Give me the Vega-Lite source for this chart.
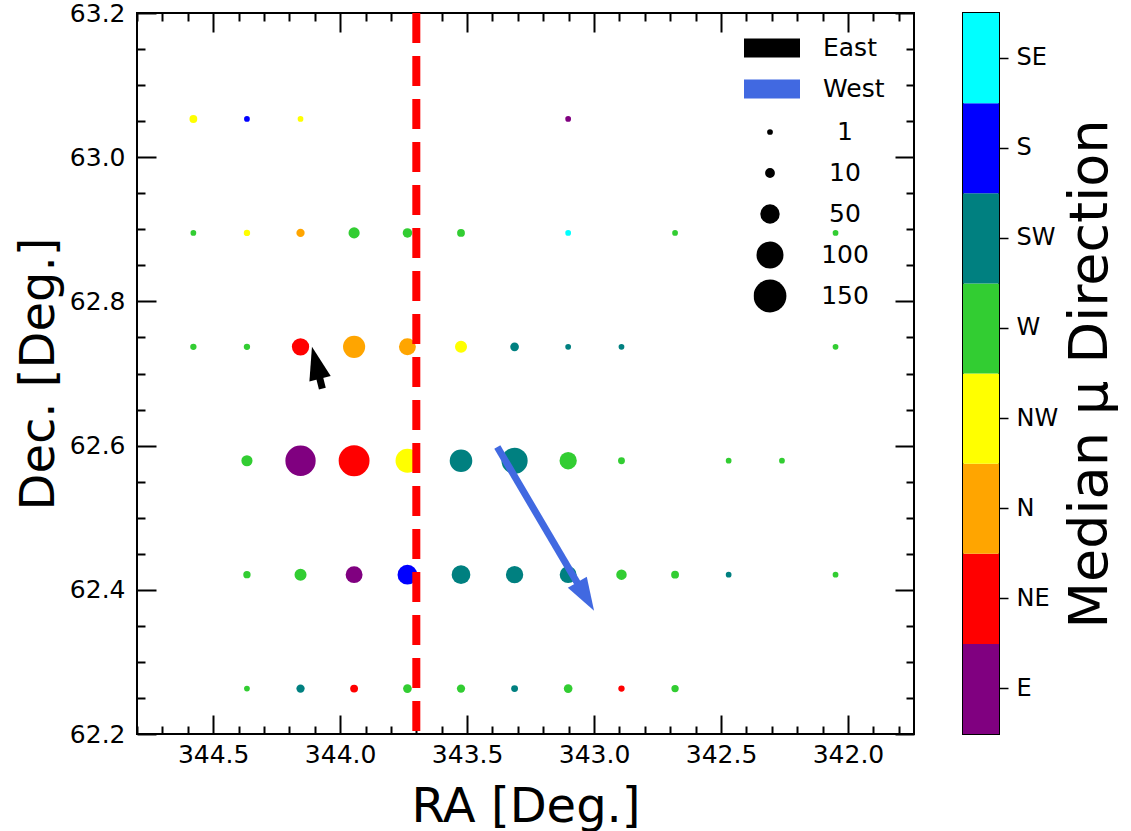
{
  "$schema": "https://vega.github.io/schema/vega-lite/v6.json",
  "padding": {"left": 14, "top": 0, "right": 0, "bottom": 0},
  "config": {
    "font": "DejaVu Sans",
    "view": {"stroke": "black", "strokeWidth": 2},
    "axis": {"labelColor": "black", "titleColor": "black", "tickColor": "black", "titleFontWeight": "normal", "grid": false, "domain": false}
  },
  "spacing": 46,
  "resolve": {"legend": {"size": "independent", "stroke": "independent"}},
  "hconcat": [
    {
      "width": 777,
      "height": 721,
      "resolve": {"axis": {"x": "independent", "y": "independent"}},
      "layer": [
        {
          "data": {"values": [
            {"ra": 344.578, "dec": 63.053, "dir": "NW", "n": 5},
            {"ra": 344.367, "dec": 63.053, "dir": "S", "n": 1},
            {"ra": 344.156, "dec": 63.053, "dir": "NW", "n": 1},
            {"ra": 343.102, "dec": 63.053, "dir": "E", "n": 1},
            {"ra": 344.578, "dec": 62.895, "dir": "W", "n": 1},
            {"ra": 344.367, "dec": 62.895, "dir": "NW", "n": 2},
            {"ra": 344.156, "dec": 62.895, "dir": "N", "n": 6},
            {"ra": 343.945, "dec": 62.895, "dir": "W", "n": 14},
            {"ra": 343.735, "dec": 62.895, "dir": "W", "n": 9},
            {"ra": 343.524, "dec": 62.895, "dir": "W", "n": 5},
            {"ra": 343.102, "dec": 62.895, "dir": "SE", "n": 1},
            {"ra": 342.681, "dec": 62.895, "dir": "W", "n": 1},
            {"ra": 342.049, "dec": 62.895, "dir": "W", "n": 1},
            {"ra": 344.578, "dec": 62.737, "dir": "W", "n": 2},
            {"ra": 344.367, "dec": 62.737, "dir": "W", "n": 2},
            {"ra": 344.156, "dec": 62.737, "dir": "NE", "n": 39},
            {"ra": 343.945, "dec": 62.737, "dir": "N", "n": 66},
            {"ra": 343.735, "dec": 62.737, "dir": "N", "n": 37},
            {"ra": 343.524, "dec": 62.737, "dir": "NW", "n": 17},
            {"ra": 343.313, "dec": 62.737, "dir": "SW", "n": 7},
            {"ra": 343.102, "dec": 62.737, "dir": "SW", "n": 1},
            {"ra": 342.892, "dec": 62.737, "dir": "SW", "n": 1},
            {"ra": 342.049, "dec": 62.737, "dir": "W", "n": 1},
            {"ra": 344.367, "dec": 62.579, "dir": "W", "n": 14},
            {"ra": 344.156, "dec": 62.579, "dir": "E", "n": 127},
            {"ra": 343.945, "dec": 62.579, "dir": "NE", "n": 132},
            {"ra": 343.735, "dec": 62.579, "dir": "NW", "n": 77},
            {"ra": 343.524, "dec": 62.579, "dir": "SW", "n": 69},
            {"ra": 343.313, "dec": 62.579, "dir": "SW", "n": 94},
            {"ra": 343.102, "dec": 62.579, "dir": "W", "n": 39},
            {"ra": 342.892, "dec": 62.579, "dir": "W", "n": 3},
            {"ra": 342.470, "dec": 62.579, "dir": "W", "n": 1},
            {"ra": 342.260, "dec": 62.579, "dir": "W", "n": 1},
            {"ra": 344.367, "dec": 62.421, "dir": "W", "n": 4},
            {"ra": 344.156, "dec": 62.421, "dir": "W", "n": 17},
            {"ra": 343.945, "dec": 62.421, "dir": "E", "n": 37},
            {"ra": 343.735, "dec": 62.421, "dir": "S", "n": 52},
            {"ra": 343.524, "dec": 62.421, "dir": "SW", "n": 46},
            {"ra": 343.313, "dec": 62.421, "dir": "SW", "n": 39},
            {"ra": 343.102, "dec": 62.421, "dir": "SW", "n": 37},
            {"ra": 342.892, "dec": 62.421, "dir": "W", "n": 12},
            {"ra": 342.681, "dec": 62.421, "dir": "W", "n": 5},
            {"ra": 342.470, "dec": 62.421, "dir": "SW", "n": 1},
            {"ra": 342.049, "dec": 62.421, "dir": "W", "n": 1},
            {"ra": 344.367, "dec": 62.263, "dir": "W", "n": 1},
            {"ra": 344.156, "dec": 62.263, "dir": "SW", "n": 6},
            {"ra": 343.945, "dec": 62.263, "dir": "NE", "n": 5},
            {"ra": 343.735, "dec": 62.263, "dir": "W", "n": 7},
            {"ra": 343.524, "dec": 62.263, "dir": "W", "n": 6},
            {"ra": 343.313, "dec": 62.263, "dir": "SW", "n": 3},
            {"ra": 343.102, "dec": 62.263, "dir": "W", "n": 7},
            {"ra": 342.892, "dec": 62.263, "dir": "NE", "n": 2},
            {"ra": 342.681, "dec": 62.263, "dir": "W", "n": 4}
          ]},
          "mark": {"type": "circle", "opacity": 1},
          "encoding": {
            "x": {"field": "ra", "type": "quantitative",
              "scale": {"domain": [341.74, 344.8], "reverse": true, "nice": false, "zero": false},
              "axis": {"orient": "bottom", "title": "RA [Deg.]", "titleFontSize": 48, "titlePadding": 5,
                "values": [341.8,341.9,342,342.1,342.2,342.3,342.4,342.5,342.6,342.7,342.8,342.9,343,343.1,343.2,343.3,343.4,343.5,343.6,343.7,343.8,343.9,344,344.1,344.2,344.3,344.4,344.5,344.6,344.7,344.8],
                "labelExpr": "abs(datum.value*2-round(datum.value*2))<0.01 ? format(datum.value,'.1f') : ''",
                "labelFontSize": 25, "labelPadding": 27, "labelOverlap": false, "labelFlush": false,
                "tickSize": {"condition": {"test": "abs(datum.value*2-round(datum.value*2))<0.01", "value": -19}, "value": -8},
                "tickWidth": 2}},
            "y": {"field": "dec", "type": "quantitative",
              "scale": {"domain": [62.2, 63.2], "nice": false, "zero": false},
              "axis": {"orient": "left", "title": "Dec. [Deg.]", "titleFontSize": 48, "titlePadding": 6,
                "values": [62.2,62.25,62.3,62.35,62.4,62.45,62.5,62.55,62.6,62.65,62.7,62.75,62.8,62.85,62.9,62.95,63,63.05,63.1,63.15,63.2],
                "labelExpr": "abs(datum.value*5-round(datum.value*5))<0.01 ? format(datum.value,'.1f') : ''",
                "labelFontSize": 25, "labelPadding": 31, "labelOverlap": false, "labelFlush": false,
                "tickSize": {"condition": {"test": "abs(datum.value*5-round(datum.value*5))<0.01", "value": -19}, "value": -8},
                "tickWidth": 2}},
            "fill": {"field": "dir", "type": "nominal",
              "scale": {"domain": ["E","NE","N","NW","W","SW","S","SE"], "range": ["#800080","#ff0000","#ffa500","#ffff00","#32cd32","#008080","#0000ff","#00ffff"]},
              "legend": null},
            "size": {"field": "n", "type": "quantitative",
              "scale": {"type": "linear", "domain": [0, 150], "range": [26, 1080], "zero": false},
              "legend": {"title": null, "orient": "none", "legendX": 616.5, "legendY": 98.5, "padding": 0,
                "values": [1, 10, 50, 100, 150], "symbolType": "circle",
                "symbolFillColor": "black", "symbolStrokeColor": "black", "symbolStrokeWidth": 0, "symbolOpacity": 1,
                "labelFontSize": 25, "labelColor": "black", "labelAlign": "center", "labelOffset": 58.5,
                "clipHeight": 41, "rowPadding": 0}}
          }
        },
        {
          "data": {"values": [{"ra": 343.7}]},
          "mark": {"type": "rule", "color": "#ff0000", "strokeWidth": 8, "strokeDash": [30, 13]},
          "encoding": {
            "x": {"field": "ra", "type": "quantitative", "axis": null},
            "y": {"datum": 63.2, "axis": null},
            "y2": {"datum": 62.2}
          }
        },
        {
          "data": {"name": "arrows", "values": [
            {"arrow": "East", "ra0": 344.070, "dec0": 62.679, "ra1": 344.087, "dec1": 62.703, "ra_tip": 344.111, "dec_tip": 62.737},
            {"arrow": "West", "ra0": 343.381, "dec0": 62.598, "ra1": 343.050, "dec1": 62.400, "ra_tip": 343.000, "dec_tip": 62.371}
          ]},
          "mark": {"type": "rule", "strokeWidth": 7},
          "encoding": {
            "x": {"field": "ra0", "type": "quantitative",
              "axis": {"orient": "top", "title": null, "labels": false,
                "values": [341.8,341.9,342,342.1,342.2,342.3,342.4,342.5,342.6,342.7,342.8,342.9,343,343.1,343.2,343.3,343.4,343.5,343.6,343.7,343.8,343.9,344,344.1,344.2,344.3,344.4,344.5,344.6,344.7,344.8],
                "tickSize": {"condition": {"test": "abs(datum.value*2-round(datum.value*2))<0.01", "value": -19}, "value": -8},
                "tickWidth": 2}},
            "x2": {"field": "ra1"},
            "y": {"field": "dec0", "type": "quantitative",
              "axis": {"orient": "right", "title": null, "labels": false,
                "values": [62.2,62.25,62.3,62.35,62.4,62.45,62.5,62.55,62.6,62.65,62.7,62.75,62.8,62.85,62.9,62.95,63,63.05,63.1,63.15,63.2],
                "tickSize": {"condition": {"test": "abs(datum.value*5-round(datum.value*5))<0.01", "value": -19}, "value": -8},
                "tickWidth": 2}},
            "y2": {"field": "dec1"},
            "stroke": {"field": "arrow", "type": "nominal",
              "scale": {"domain": ["East", "West"], "range": ["#000000", "#4169e1"]},
              "legend": {"title": null, "orient": "none", "legendX": 597.5, "legendY": 14.5, "padding": 0,
                "symbolType": "M-1,0L1,0", "symbolSize": 3136, "symbolStrokeWidth": 19,
                "labelFontSize": 25, "labelColor": "black", "labelOffset": 13.5,
                "clipHeight": 41, "rowPadding": 0}}
          }
        },
        {
          "data": {"name": "arrows"},
          "transform": [{"filter": "datum.arrow === 'East'"}],
          "mark": {"type": "point", "shape": "M0,0L-0.333,1L0.333,1Z", "filled": true, "size": 4356, "angle": 345.8, "fill": "#000000", "opacity": 1, "strokeWidth": 0},
          "encoding": {
            "x": {"field": "ra_tip", "type": "quantitative", "axis": null},
            "y": {"field": "dec_tip", "type": "quantitative", "axis": null}
          }
        },
        {
          "data": {"name": "arrows"},
          "transform": [{"filter": "datum.arrow === 'West'"}],
          "mark": {"type": "point", "shape": "M0,0L-0.333,1L0.333,1Z", "filled": true, "size": 4356, "angle": 149.5, "fill": "#4169e1", "opacity": 1, "strokeWidth": 0},
          "encoding": {
            "x": {"field": "ra_tip", "type": "quantitative", "axis": null},
            "y": {"field": "dec_tip", "type": "quantitative", "axis": null}
          }
        }
      ]
    },
    {
      "width": 36,
      "height": 721,
      "data": {"values": [
        {"dir": "E"}, {"dir": "NE"}, {"dir": "N"}, {"dir": "NW"},
        {"dir": "W"}, {"dir": "SW"}, {"dir": "S"}, {"dir": "SE"}
      ]},
      "mark": {"type": "rect"},
      "encoding": {
        "y": {"field": "dir", "type": "nominal", "sort": ["SE","S","SW","W","NW","N","NE","E"],
          "scale": {"paddingInner": 0, "paddingOuter": 0},
          "axis": {"orient": "right", "title": "Median μ Direction", "titleFontSize": 54, "titleAngle": 270,
            "titleBaseline": "top", "titlePadding": 6, "labelFontSize": 24, "tickSize": 9, "tickWidth": 1.5, "labelPadding": 8}},
        "fill": {"field": "dir", "type": "nominal",
          "scale": {"domain": ["E","NE","N","NW","W","SW","S","SE"], "range": ["#800080","#ff0000","#ffa500","#ffff00","#32cd32","#008080","#0000ff","#00ffff"]},
          "legend": null}
      }
    }
  ]
}
